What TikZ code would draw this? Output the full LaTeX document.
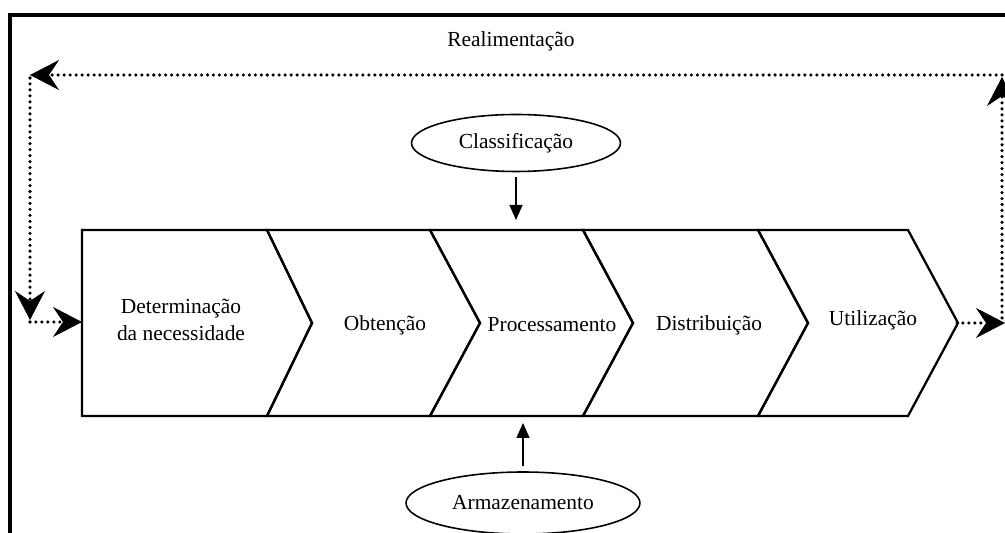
\documentclass[tikz,border=0pt]{standalone}
\usepackage{fontspec}
\setmainfont{Liberation Serif}
\usetikzlibrary{arrows.meta,shapes.geometric}

\begin{document}
\begin{tikzpicture}[x=0.02cm,y=-0.02cm,font=\fontsize{12.2}{15}\selectfont]
  \tikzstyle{etapa}=[draw=black,line width=1.3pt,line join=miter]
  \tikzstyle{rotulo}=[inner sep=0pt,align=center]
  \tikzstyle{elipse}=[draw,ellipse,line width=0.9pt,inner sep=0pt]
  \tikzstyle{seta}=[line width=0.9pt,-{Triangle[length=0.3cm,width=0.26cm]}]
  \tikzstyle{retro}=[line width=2pt,line cap=round,dash pattern=on 0pt off 3.4pt,
    -{Stealth[length=0.58cm,width=0.6cm,inset=0.2cm,line width=0.5pt]}]
  \useasboundingbox (0,0) rectangle (1005,533);
  \draw[line width=1.8pt] (10,600) |- (1100,15);
  % cadeia de etapas
  \draw[etapa] (82,230) -- (267,230) -- (312,323) -- (267,416) -- (82,416) -- cycle;
  \foreach \a/\m/\b/\p in {267/312/430/480,430/480/583/633,583/633/758/808,758/808/908/958}
    \draw[etapa] (\a,230) -- (\b,230) -- (\p,323) -- (\b,416) -- (\a,416) -- (\m,323) -- cycle;
  \node[rotulo] (det) at (181,320) {Determinação\\da necessidade};
  \node[rotulo] (obt) at (385,325) {Obtenção};
  \node[rotulo] (pro) at (552,325) {Processamento};
  \node[rotulo] (dis) at (709,325) {Distribuição};
  \node[rotulo] (uti) at (873,320) {Utilização};
  \node[rotulo] (real) at (511,41) {Realimentação};
  % apoio
  \node[elipse,minimum width=4.18cm,minimum height=1.14cm] (cla) at (516,143) {Classificação};
  \node[elipse,minimum width=4.68cm,minimum height=1.24cm] (arm) at (523,503) {Armazenamento};
  \coordinate (topo) at (516,220);
  \coordinate (base) at (523,423);
  \draw[seta,shorten <=0.1cm] (cla) -- (topo);
  \draw[seta,shorten <=0.1cm] (arm) -- (base);
  % realimentacao
  \coordinate (sai) at (957,323);
  \coordinate (dir) at (1005,323);
  \coordinate (dbx) at (1002,318);
  \coordinate (cdir) at (1002,77);
  \coordinate (cdir2) at (1002,75);
  \coordinate (cesq) at (30,75);
  \coordinate (cesq2) at (30,78);
  \coordinate (desq) at (30,320);
  \coordinate (desq2) at (30,322);
  \coordinate (ent) at (82,322);
  \draw[retro] (sai) -- (dir);
  \draw[retro] (dbx) -- (cdir);
  \draw[retro] (cdir2) -- (cesq);
  \draw[retro] (cesq2) -- (desq);
  \draw[retro] (desq2) -- (ent);
\end{tikzpicture}
\end{document}
